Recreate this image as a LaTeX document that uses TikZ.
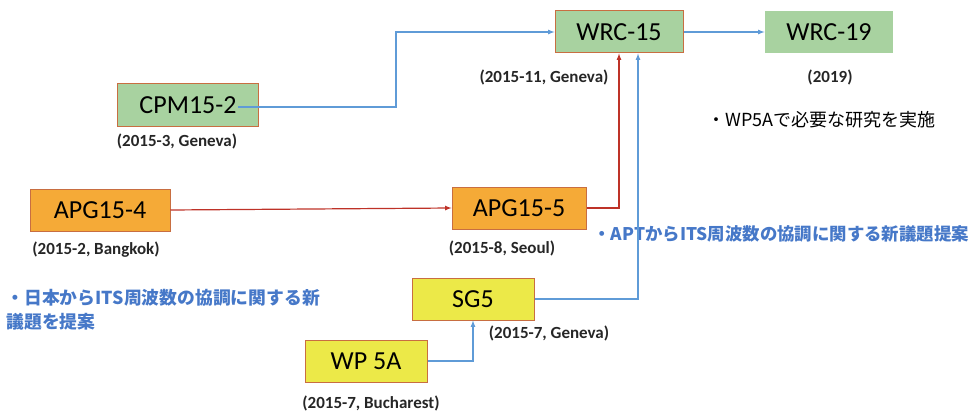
\documentclass[tikz,border=0pt]{standalone}
\usepackage{fontspec}
\setmainfont{Carlito}
\newfontfamily\jpfont{Noto Sans CJK JP}
\usetikzlibrary{positioning, arrows}
\definecolor{boxline}{RGB}{200,110,65}
\definecolor{greenfill}{RGB}{168,210,160}
\definecolor{orangefill}{RGB}{245,170,55}
\definecolor{yellowfill}{RGB}{236,233,72}
\definecolor{blueline}{RGB}{95,155,215}
\definecolor{redline}{RGB}{190,50,40}
\definecolor{bluetext}{RGB}{70,120,200}
\tikzset{
    x=1pt, y=-1pt, % pixel-like coordinates, y grows downwards
    >=latex, % small filled arrow heads
    meeting/.style={draw=boxline, line width=1pt, inner sep=0pt, minimum height=42pt, font=\fontsize{26}{30}\selectfont}, % every meeting box
    greenbox/.style={meeting, fill=greenfill},
    orangebox/.style={meeting, fill=orangefill},
    yellowbox/.style={meeting, fill=yellowfill},
    datelabel/.style={font=\bfseries\fontsize{17}{20}\selectfont, text=black!85}, % date and place under a box
    note/.style={font=\jpfont\fontsize{18}{24}\selectfont, align=left}, % Japanese remarks
    bluenote/.style={note, text=bluetext, font=\jpfont\bfseries\fontsize{17.4}{24}\selectfont},
    bluearrow/.style={->, draw=blueline, line width=1.2pt},
    redarrow/.style={->, draw=redline, line width=1.2pt},
    }
\begin{document}
\begin{tikzpicture}
            \useasboundingbox (0,0) rectangle (978,412);
            % meetings
            \node[greenbox, minimum width=128pt] (wrc15) at (619,32) {WRC-15};
            \node[greenbox, draw=none, minimum width=128pt] (wrc19) at (829,32) {WRC-19};
            \node[greenbox, minimum width=141pt] (cpm) at (188,105) {CPM15-2};
            \node[orangebox, minimum width=140pt] (apg4) at (100,210) {APG15-4};
            \node[orangebox, minimum width=134pt] (apg5) at (519,208) {APG15-5};
            \node[yellowbox, minimum width=122pt] (sg5) at (473,299) {SG5};
            \node[yellowbox, minimum width=122pt] (wp5a) at (366,361) {WP 5A};
            % dates
            \node[datelabel] (wrc15date) at (544,77) {(2015-11, Geneva)};
            \node[datelabel] (wrc19date) at (830,77) {(2019)};
            \node[datelabel] (cpmdate) at (177,141) {(2015-3, Geneva)};
            \node[datelabel] (apg4date) at (96,250) {(2015-2, Bangkok)};
            \node[datelabel] (apg5date) at (502,248) {(2015-8, Seoul)};
            \node[datelabel] (sg5date) at (549,333) {(2015-7, Geneva)};
            \node[datelabel] (wp5adate) at (371,403) {(2015-7, Bucharest)};
            % remarks
            \node[note, anchor=west] (notewp) at (704,120) {・WP5Aで必要な研究を実施};
            \node[bluenote, anchor=west] (noteapt) at (590,234) {・APTからITS周波数の協調に関する新議題提案};
            \node[bluenote, anchor=north west, font=\jpfont\bfseries\fontsize{17.8}{24}\selectfont] (notejp) at (3,286) {・日本からITS周波数の協調に関する新\\議題を提案};
            % connectors
            \coordinate (turncpm) at (396,0);
            \draw[bluearrow] ([xshift=-21pt,yshift=-2pt]cpm.east) -| (turncpm |- wrc15.west) -- (wrc15.west);
            \draw[bluearrow] (wrc15) -- (wrc19);
            \draw[redarrow] (apg4.east) -- (apg5.west);
            \draw[redarrow] (apg5.east) -| (wrc15.south);
            \draw[bluearrow] (sg5.east) -| ([xshift=19pt]wrc15.south);
            \draw[bluearrow] (wp5a.east) -| (sg5.south);
\end{tikzpicture}
\end{document}
